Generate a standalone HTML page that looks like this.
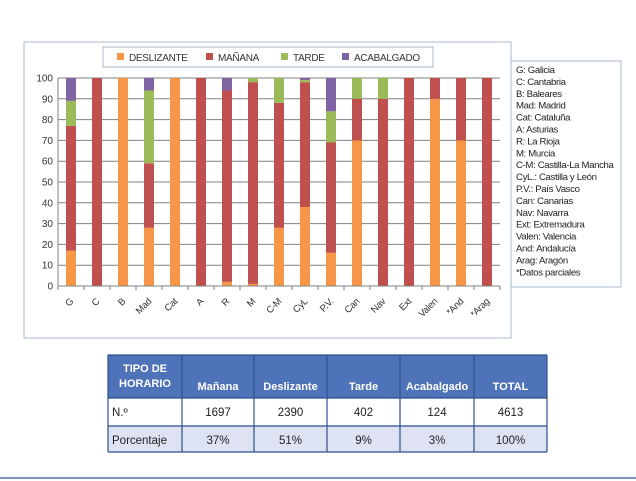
<!DOCTYPE html>
<html><head><meta charset="utf-8"><style>
html,body{margin:0;padding:0;background:#fff;width:636px;height:481px;overflow:hidden;font-family:"Liberation Sans",sans-serif}
svg{position:absolute;left:0;top:0}
</style></head><body>
<svg id="c" width="636" height="481">
<rect x="24" y="42" width="487" height="296" fill="#fff" stroke="#a8b8cc" stroke-width="1"/>
<g id="grid"></g>
<g id="bars"></g>
<g id="axes"></g>
<g letter-spacing="-0.3">
<rect x="103" y="47" width="330" height="20" fill="#fff" stroke="#a8b8cc"/>
<g><rect x="117" y="53" width="7" height="7" fill="#f79646"/><text x="129" y="61" font-size="10" fill="#333">DESLIZANTE</text></g>
<g><rect x="206" y="53" width="7" height="7" fill="#c0504d"/><text x="218" y="61" font-size="10" fill="#333">MAÑANA</text></g>
<g><rect x="281" y="53" width="7" height="7" fill="#9bbb59"/><text x="293" y="61" font-size="10" fill="#333">TARDE</text></g>
<g><rect x="342" y="53" width="7" height="7" fill="#8064a2"/><text x="354" y="61" font-size="10" fill="#333">ACABALGADO</text></g>
</g>
<g>
<rect x="511" y="61" width="110" height="226" fill="#fff" stroke="#a8b8cc"/>
<text id="keytext" font-size="9.6" letter-spacing="-0.35" fill="#222"></text>
</g>
<g id="table"></g>
<line x1="0" y1="478" x2="636" y2="478" stroke="#4f6fa8" stroke-width="1.5"/>
</svg>
<script>
const categories=["G","C","B","Mad","Cat","A","R","M","C-M","CyL","P.V.","Can","Nav","Ext","Valen","*And","*Arag"];
const deslizante=[17,0,100,28,100,0,2,1,28,38,16,70,0,0,90,70,0];
const manana=[60,100,0,31,0,100,92,97,60,60,53,20,90,100,10,30,100];
const tarde=[12,0,0,35,0,0,0,2,12,1,15,10,10,0,0,0,0];
const acabalgado=[11,0,0,6,0,0,6,0,0,1,16,0,0,0,0,0,0];
const yTicks=[0,10,20,30,40,50,60,70,80,90,100];
const keyLines=["G: Galicia","C: Cantabria","B: Baleares","Mad: Madrid","Cat: Cataluña","A: Asturias","R: La Rioja","M: Murcia","C-M: Castilla-La Mancha","CyL.: Castilla y León","P.V.: País Vasco","Can: Canarias","Nav: Navarra","Ext: Extremadura","Valen: Valencia","And: Andalucía","Arag: Aragón","*Datos parciales"];
const tableHead=["TIPO DE|HORARIO","Mañana","Deslizante","Tarde","Acabalgado","TOTAL"];
const rowN=["N.º","1697","2390","402","124","4613"];
const rowP=["Porcentaje","37%","51%","9%","3%","100%"];
const NS="http://www.w3.org/2000/svg";
function mk(t,a,p){const e=document.createElementNS(NS,t);for(const k in a)e.setAttribute(k,a[k]);p.appendChild(e);return e;}
const X0=58,X1=500,Y0=286,Y1=78;
const step=(X1-X0)/categories.length;
const xc=i=>X0+step*(i+0.5);
const y=v=>Y0-(v/100)*(Y0-Y1);
const grid=document.getElementById('grid'),bars=document.getElementById('bars'),axes=document.getElementById('axes');
yTicks.forEach(t=>{
 if(t>0){const l=mk('line',{x1:X0,x2:X1,y1:y(t),y2:y(t),stroke:'#808080','stroke-width':1},grid);
 
 }
 const tx=mk('text',{x:X0-5,y:y(t)+3.5,'font-size':10,'text-anchor':'end',fill:'#333'},axes);tx.textContent=t;
 
 
});
const series=[[deslizante,'#f79646'],[manana,'#c0504d'],[tarde,'#9bbb59'],[acabalgado,'#8064a2']];
categories.forEach((c,i)=>{
 let acc=0;
 series.forEach(([arr,col])=>{const v=arr[i];if(v>0){const r=mk('rect',{x:xc(i)-5,y:y(acc+v),width:10,height:y(acc)-y(acc+v),fill:col},bars);
 
 }acc+=v;});
 const tk=mk('line',{x1:X0+step*(i+1),x2:X0+step*(i+1),y1:Y0,y2:Y0+4,stroke:'#808080'},axes);
 
 
 const lx=xc(i)+3,ly=Y0+16;
 const t=mk('text',{x:lx,y:ly,'font-size':9.5,'letter-spacing':'-0.3','text-anchor':'end',fill:'#333',transform:`rotate(-45 ${lx} ${ly})`},axes);t.textContent=c;
 
 
});
mk('line',{x1:X0,x2:X1,y1:Y0,y2:Y0,stroke:'#808080'},axes);
mk('line',{x1:X0,x2:X0,y1:Y1,y2:Y0+4,stroke:'#808080'},axes);
const kt=document.getElementById('keytext');
keyLines.forEach((s,i)=>{const ts=mk('tspan',{x:516,y:73+i*11.9},kt);ts.textContent=s;});
const tb=document.getElementById('table');
const cx=[108,182,254,327,400,474,547];const ry=[355,398,426,452];
mk('rect',{x:108,y:355,width:439,height:43,fill:'#4f73b8'},tb);
mk('rect',{x:108,y:426,width:439,height:26,fill:'#dde3f3'},tb);
[rowN,rowP].forEach((row,r)=>row.forEach((s,j)=>{const t=mk('text',{x:j==0?cx[0]+4:(cx[j]+cx[j+1])/2,y:ry[r+1]+18,'font-size':11.5,'text-anchor':j==0?'start':'middle',fill:'#222'},tb);t.textContent=s;
 
 }));
tableHead.forEach((s,j)=>{const parts=s.split('|');const mid=(cx[j]+cx[j+1])/2;
 parts.forEach((p,k)=>{const t=mk('text',{x:mid,y:parts.length>1?372+k*15:390,'font-size':11,'font-weight':'bold','text-anchor':'middle',fill:'#fff'},tb);t.textContent=p;
 
 });});
ry.forEach(v=>mk('line',{x1:108,x2:547,y1:v,y2:v,stroke:'#2f4f8f','stroke-width':1.2},tb));
cx.forEach(v=>mk('line',{x1:v,x2:v,y1:355,y2:452,stroke:'#2f4f8f','stroke-width':1.2},tb));
</script>
</body></html>
